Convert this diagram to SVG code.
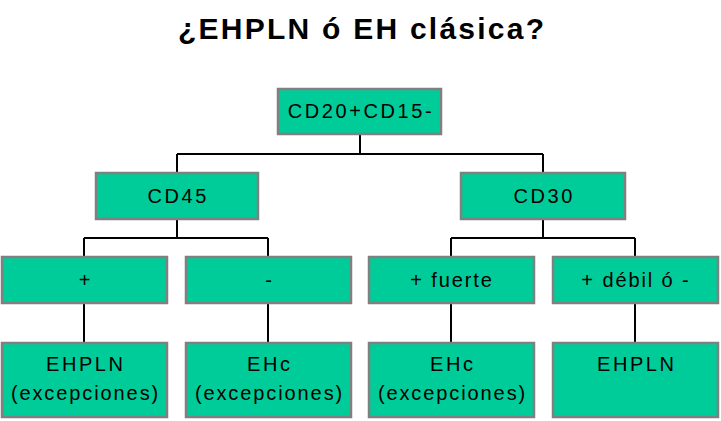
<svg xmlns="http://www.w3.org/2000/svg" width="721" height="421" viewBox="0 0 721 421">
<style>
.box{fill:#00CC99;stroke:#808080;stroke-width:2.5}
.t{font-family:"Liberation Sans",Arial,sans-serif;font-size:20px;letter-spacing:2.6px;text-anchor:middle;fill:#000}
.l{letter-spacing:1.9px}
.title{font-family:"Liberation Sans",Arial,sans-serif;font-size:30px;font-weight:bold;text-anchor:middle;fill:#000}
.c{stroke:#000;stroke-width:2;fill:none}
</style>
<rect width="721" height="421" fill="#fff"/>
<text class="title" x="361" y="39" textLength="366" lengthAdjust="spacing">¿EHPLN ó EH clásica?</text>
<g id="connectors" class="c">
<path d="M360 134V154M177 154H543M177 154V173M543 154V173"/>
<path d="M177 219V238M84 238H268M84 238V257M268 238V257"/>
<path d="M543 219V238M451 238H635M451 238V257M635 238V257"/>
<path d="M84 303V343M268 303V343M451 303V343M635 303V343"/>
</g>
<g id="root"><rect class="box" x="278" y="89" width="163" height="45"/><text class="t" x="361" y="118">CD20+CD15-</text></g>
<g id="cd45"><rect class="box" x="96" y="173" width="162" height="46"/><text class="t" x="178.3" y="203">CD45</text></g>
<g id="cd30"><rect class="box" x="461" y="173" width="164" height="46"/><text class="t" x="544.3" y="203">CD30</text></g>
<g id="pos"><rect class="box" x="2" y="257" width="165" height="46"/><text class="t" x="85.8" y="287">+</text></g>
<g id="neg"><rect class="box" x="186" y="257" width="165" height="46"/><text class="t" x="269.8" y="287">-</text></g>
<g id="fuerte"><rect class="box" x="369" y="257" width="165" height="46"/><text class="t l" x="452" y="287">+ fuerte</text></g>
<g id="debil"><rect class="box" x="553" y="257" width="165" height="46"/><text class="t l" x="636" y="287">+ débil ó -</text></g>
<g id="ehpln1"><rect class="box" x="2" y="343" width="165" height="74"/><text class="t" x="85.8" y="371">EHPLN</text><text class="t l" x="85.5" y="400">(excepciones)</text></g>
<g id="ehc1"><rect class="box" x="186" y="343" width="165" height="74"/><text class="t" x="269.8" y="371">EHc</text><text class="t l" x="269.5" y="400">(excepciones)</text></g>
<g id="ehc2"><rect class="box" x="369" y="343" width="165" height="74"/><text class="t" x="452.8" y="371">EHc</text><text class="t l" x="452.5" y="400">(excepciones)</text></g>
<g id="ehpln2"><rect class="box" x="553" y="343" width="165" height="74"/><text class="t" x="636.8" y="371">EHPLN</text></g>
</svg>
